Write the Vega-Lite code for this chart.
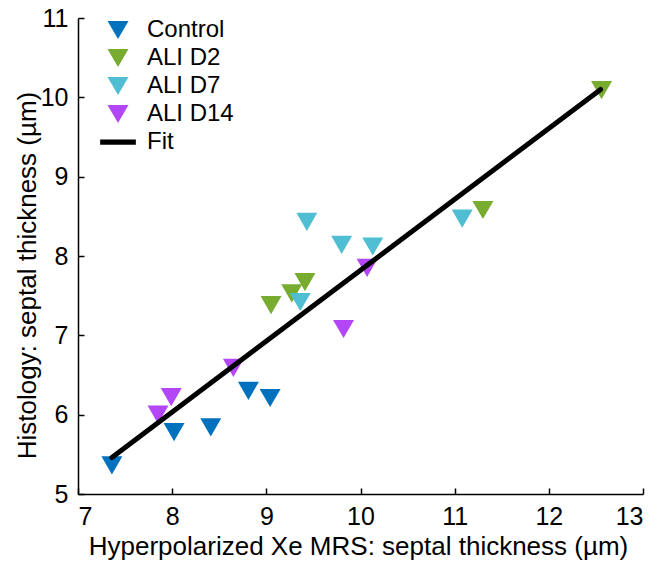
{
  "$schema": "https://vega.github.io/schema/vega-lite/v6.json",
  "width": 565,
  "height": 476,
  "autosize": {"type": "none"},
  "padding": {"left": 78, "top": 18, "right": 16, "bottom": 68},
  "background": "white",
  "config": {
    "view": {"stroke": null},
    "font": "Liberation Sans",
    "axis": {
      "grid": false,
      "domainColor": "black",
      "domainWidth": 1.5,
      "tickColor": "black",
      "tickWidth": 1.5,
      "tickSize": -6,
      "labelFont": "Liberation Sans",
      "labelFontSize": 25,
      "labelColor": "black",
      "titleFont": "Liberation Sans",
      "titleFontSize": 26,
      "titleFontWeight": "normal",
      "titleColor": "black"
    }
  },
  "datasets": {
    "pts": [
      {"g": "Control", "x": 7.36, "y": 5.36},
      {"g": "Control", "x": 8.02, "y": 5.78},
      {"g": "Control", "x": 8.41, "y": 5.84},
      {"g": "Control", "x": 8.81, "y": 6.30},
      {"g": "Control", "x": 9.04, "y": 6.21},
      {"g": "ALI D2", "x": 9.05, "y": 7.38},
      {"g": "ALI D2", "x": 9.27, "y": 7.53},
      {"g": "ALI D2", "x": 9.41, "y": 7.67},
      {"g": "ALI D2", "x": 11.30, "y": 8.58},
      {"g": "ALI D2", "x": 12.56, "y": 10.09},
      {"g": "ALI D7", "x": 9.36, "y": 7.42},
      {"g": "ALI D7", "x": 9.43, "y": 8.43},
      {"g": "ALI D7", "x": 9.80, "y": 8.14},
      {"g": "ALI D7", "x": 10.13, "y": 8.12},
      {"g": "ALI D7", "x": 11.08, "y": 8.47},
      {"g": "ALI D14", "x": 7.85, "y": 6.00},
      {"g": "ALI D14", "x": 7.99, "y": 6.22},
      {"g": "ALI D14", "x": 8.65, "y": 6.59},
      {"g": "ALI D14", "x": 9.82, "y": 7.08},
      {"g": "ALI D14", "x": 10.07, "y": 7.85}
    ],
    "fit": [
      {"x": 7.36, "y": 5.46},
      {"x": 12.55, "y": 10.10}
    ]
  },
  "layer": [
    {
      "data": {"name": "pts"},
      "mark": {"type": "point", "filled": true, "opacity": 1, "size": 441, "strokeWidth": 0},
      "encoding": {
        "x": {
          "field": "x", "type": "quantitative",
          "scale": {"domain": [7, 13], "nice": false, "zero": false},
          "axis": {
            "title": "Hyperpolarized Xe MRS: septal thickness (µm)",
            "values": [7, 8, 9, 10, 11, 12, 13],
            "format": "d",
            "labelPadding": 16,
            "titleBaseline": "alphabetic",
            "titleY": 60,
            "titleX": 280,
            "titleAnchor": "middle"
          }
        },
        "y": {
          "field": "y", "type": "quantitative",
          "scale": {"domain": [5, 11], "nice": false, "zero": false},
          "axis": {
            "title": "Histology: septal thickness (µm)",
            "values": [5, 6, 7, 8, 9, 10, 11],
            "format": "d",
            "labelPadding": 16,
            "titleBaseline": "alphabetic",
            "titleX": -43,
            "titleY": 257,
            "titleAnchor": "middle",
            "titleAngle": -90
          }
        },
        "color": {
          "field": "g", "type": "nominal",
          "scale": {
            "domain": ["Control", "ALI D2", "ALI D7", "ALI D14", "Fit"],
            "range": ["#0072BD", "#77AC30", "#4FBED3", "#B347F7", "#000000"]
          },
          "legend": {
            "title": null,
            "orient": "none",
            "legendX": 28,
            "legendY": 0,
            "padding": 0,
            "symbolSize": 441,
            "symbolStrokeWidth": 0,
            "labelFont": "Liberation Sans",
            "labelFontSize": 24,
            "labelColor": "black",
            "labelOffset": 17,
            "rowPadding": 4
          }
        },
        "shape": {
          "field": "g", "type": "nominal",
          "scale": {
            "domain": ["Control", "ALI D2", "ALI D7", "ALI D14", "Fit"],
            "range": ["triangle-down", "triangle-down", "triangle-down", "triangle-down", "M-1.7,-0.25H1.7V0.25H-1.7Z"]
          },
          "legend": {
            "title": null,
            "orient": "none",
            "legendX": 28,
            "legendY": 0,
            "padding": 0,
            "symbolSize": 441,
            "symbolStrokeWidth": 0,
            "labelFont": "Liberation Sans",
            "labelFontSize": 24,
            "labelColor": "black",
            "labelOffset": 17,
            "rowPadding": 4
          }
        }
      }
    },
    {
      "data": {"name": "fit"},
      "mark": {"type": "line", "color": "black", "strokeWidth": 5, "strokeCap": "round"},
      "encoding": {
        "x": {"field": "x", "type": "quantitative"},
        "y": {"field": "y", "type": "quantitative"}
      }
    }
  ]
}
